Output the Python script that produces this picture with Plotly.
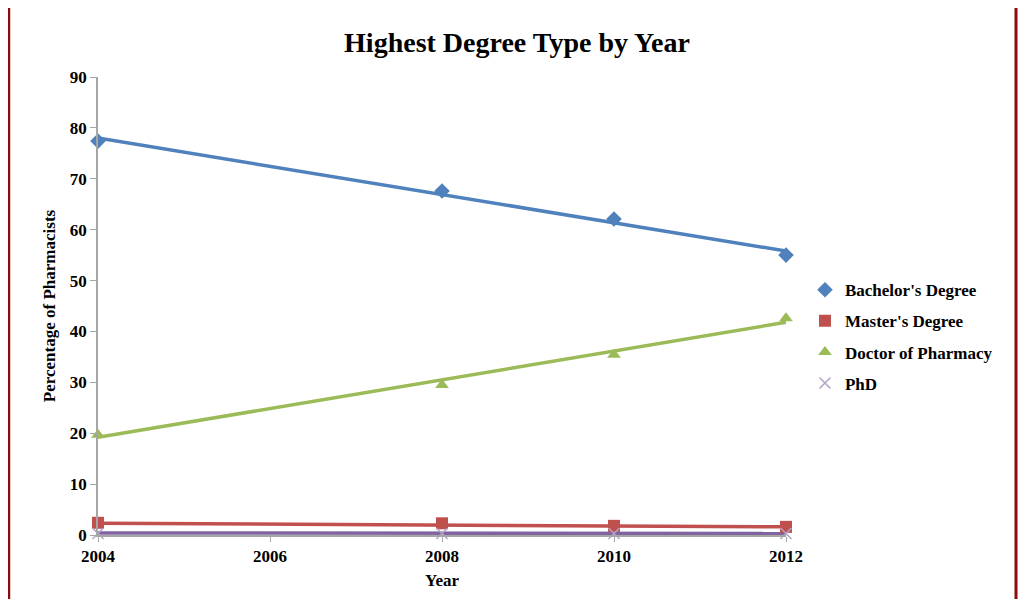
import plotly.graph_objects as go

years = [2004, 2008, 2010, 2012]
bachelor = [77.4, 67.6, 62.1, 55.0]
master = [2.4, 2.3, 1.8, 1.6]
doctor = [19.7, 29.5, 35.4, 42.6]
phd = [0.3, 0.3, 0.3, 0.3]

trend_years = [2004, 2012]
bachelor_trend = [78.0, 55.8]
master_trend = [2.3, 1.6]
doctor_trend = [19.2, 41.8]
phd_trend = [0.4, 0.3]

names = ["Bachelor's Degree", "Master's Degree", "Doctor of Pharmacy", "PhD"]
colors = ["#4F81BD", "#C0504D", "#9BBB59", "#8064A2"]
symbols = ["diamond", "square", "triangle-up", "x-thin"]
values = [bachelor, master, doctor, phd]
trends = [bachelor_trend, master_trend, doctor_trend, phd_trend]

FONT = "Liberation Serif, Times New Roman, serif"

fig = go.Figure()
for name, col, sym, vals, tr in zip(names, colors, symbols, values, trends):
    fig.add_trace(go.Scatter(
        x=trend_years, y=tr, mode="lines",
        line=dict(color=col, width=3.5),
        showlegend=False, hoverinfo="skip", cliponaxis=False))
for i, (name, col, sym, vals) in enumerate(zip(names, colors, symbols, values)):
    if sym == "x-thin":
        marker = dict(symbol=sym, size=11, color=col, line=dict(color="#B3A2C7", width=1.5))
    else:
        marker = dict(symbol=sym, size=12, color=col)
    fig.add_trace(go.Scatter(
        x=years, y=vals, mode="markers", name=name,
        marker=marker, legendgroup=f"g{i}", cliponaxis=False))

# dark red frame on the sides
for xp, w in [(-0.1294, 2.5), (1.3343, 3)]:
    fig.add_shape(type="line", xref="paper", yref="paper",
                  x0=xp, x1=xp, y0=-0.2, y1=1.2,
                  line=dict(color="#8B0A0A", width=w))

fig.update_layout(
    width=1010, height=591,
    margin=dict(l=90, r=232, t=69, b=64),
    paper_bgcolor="white", plot_bgcolor="white",
    title=dict(text="Highest Degree Type by Year", x=509 / 1010, xanchor="center",
               y=1 - 34 / 591, yanchor="middle",
               font=dict(family=FONT, size=28, color="black", weight="bold")),
    font=dict(family=FONT, color="black"),
    legend=dict(x=1.0276, xanchor="left", y=0.433, yanchor="middle",
                font=dict(family=FONT, size=17, color="black", weight="bold"),
                tracegroupgap=6, itemwidth=30, bgcolor="rgba(0,0,0,0)"),
    showlegend=True,
)
fig.update_xaxes(range=[2004, 2012], dtick=2, tick0=2004,
                 showgrid=False, zeroline=False,
                 showline=True, linecolor="#A6A6A6", linewidth=1.5,
                 ticks="outside", tickcolor="#A6A6A6", ticklen=5,
                 tickfont=dict(family=FONT, size=17, color="black", weight="bold"),
                 title=dict(text="Year", standoff=9,
                            font=dict(family=FONT, size=17, color="black", weight="bold")))
fig.update_yaxes(range=[0, 90], dtick=10,
                 showgrid=False, zeroline=False,
                 showline=True, linecolor="#A6A6A6", linewidth=1.5,
                 ticks="outside", tickcolor="#A6A6A6", ticklen=6,
                 tickfont=dict(family=FONT, size=17, color="black", weight="bold"),
                 title=dict(text="Percentage of Pharmacists", standoff=10,
                            font=dict(family=FONT, size=17, color="black", weight="bold")))

fig.write_html("out.html")
